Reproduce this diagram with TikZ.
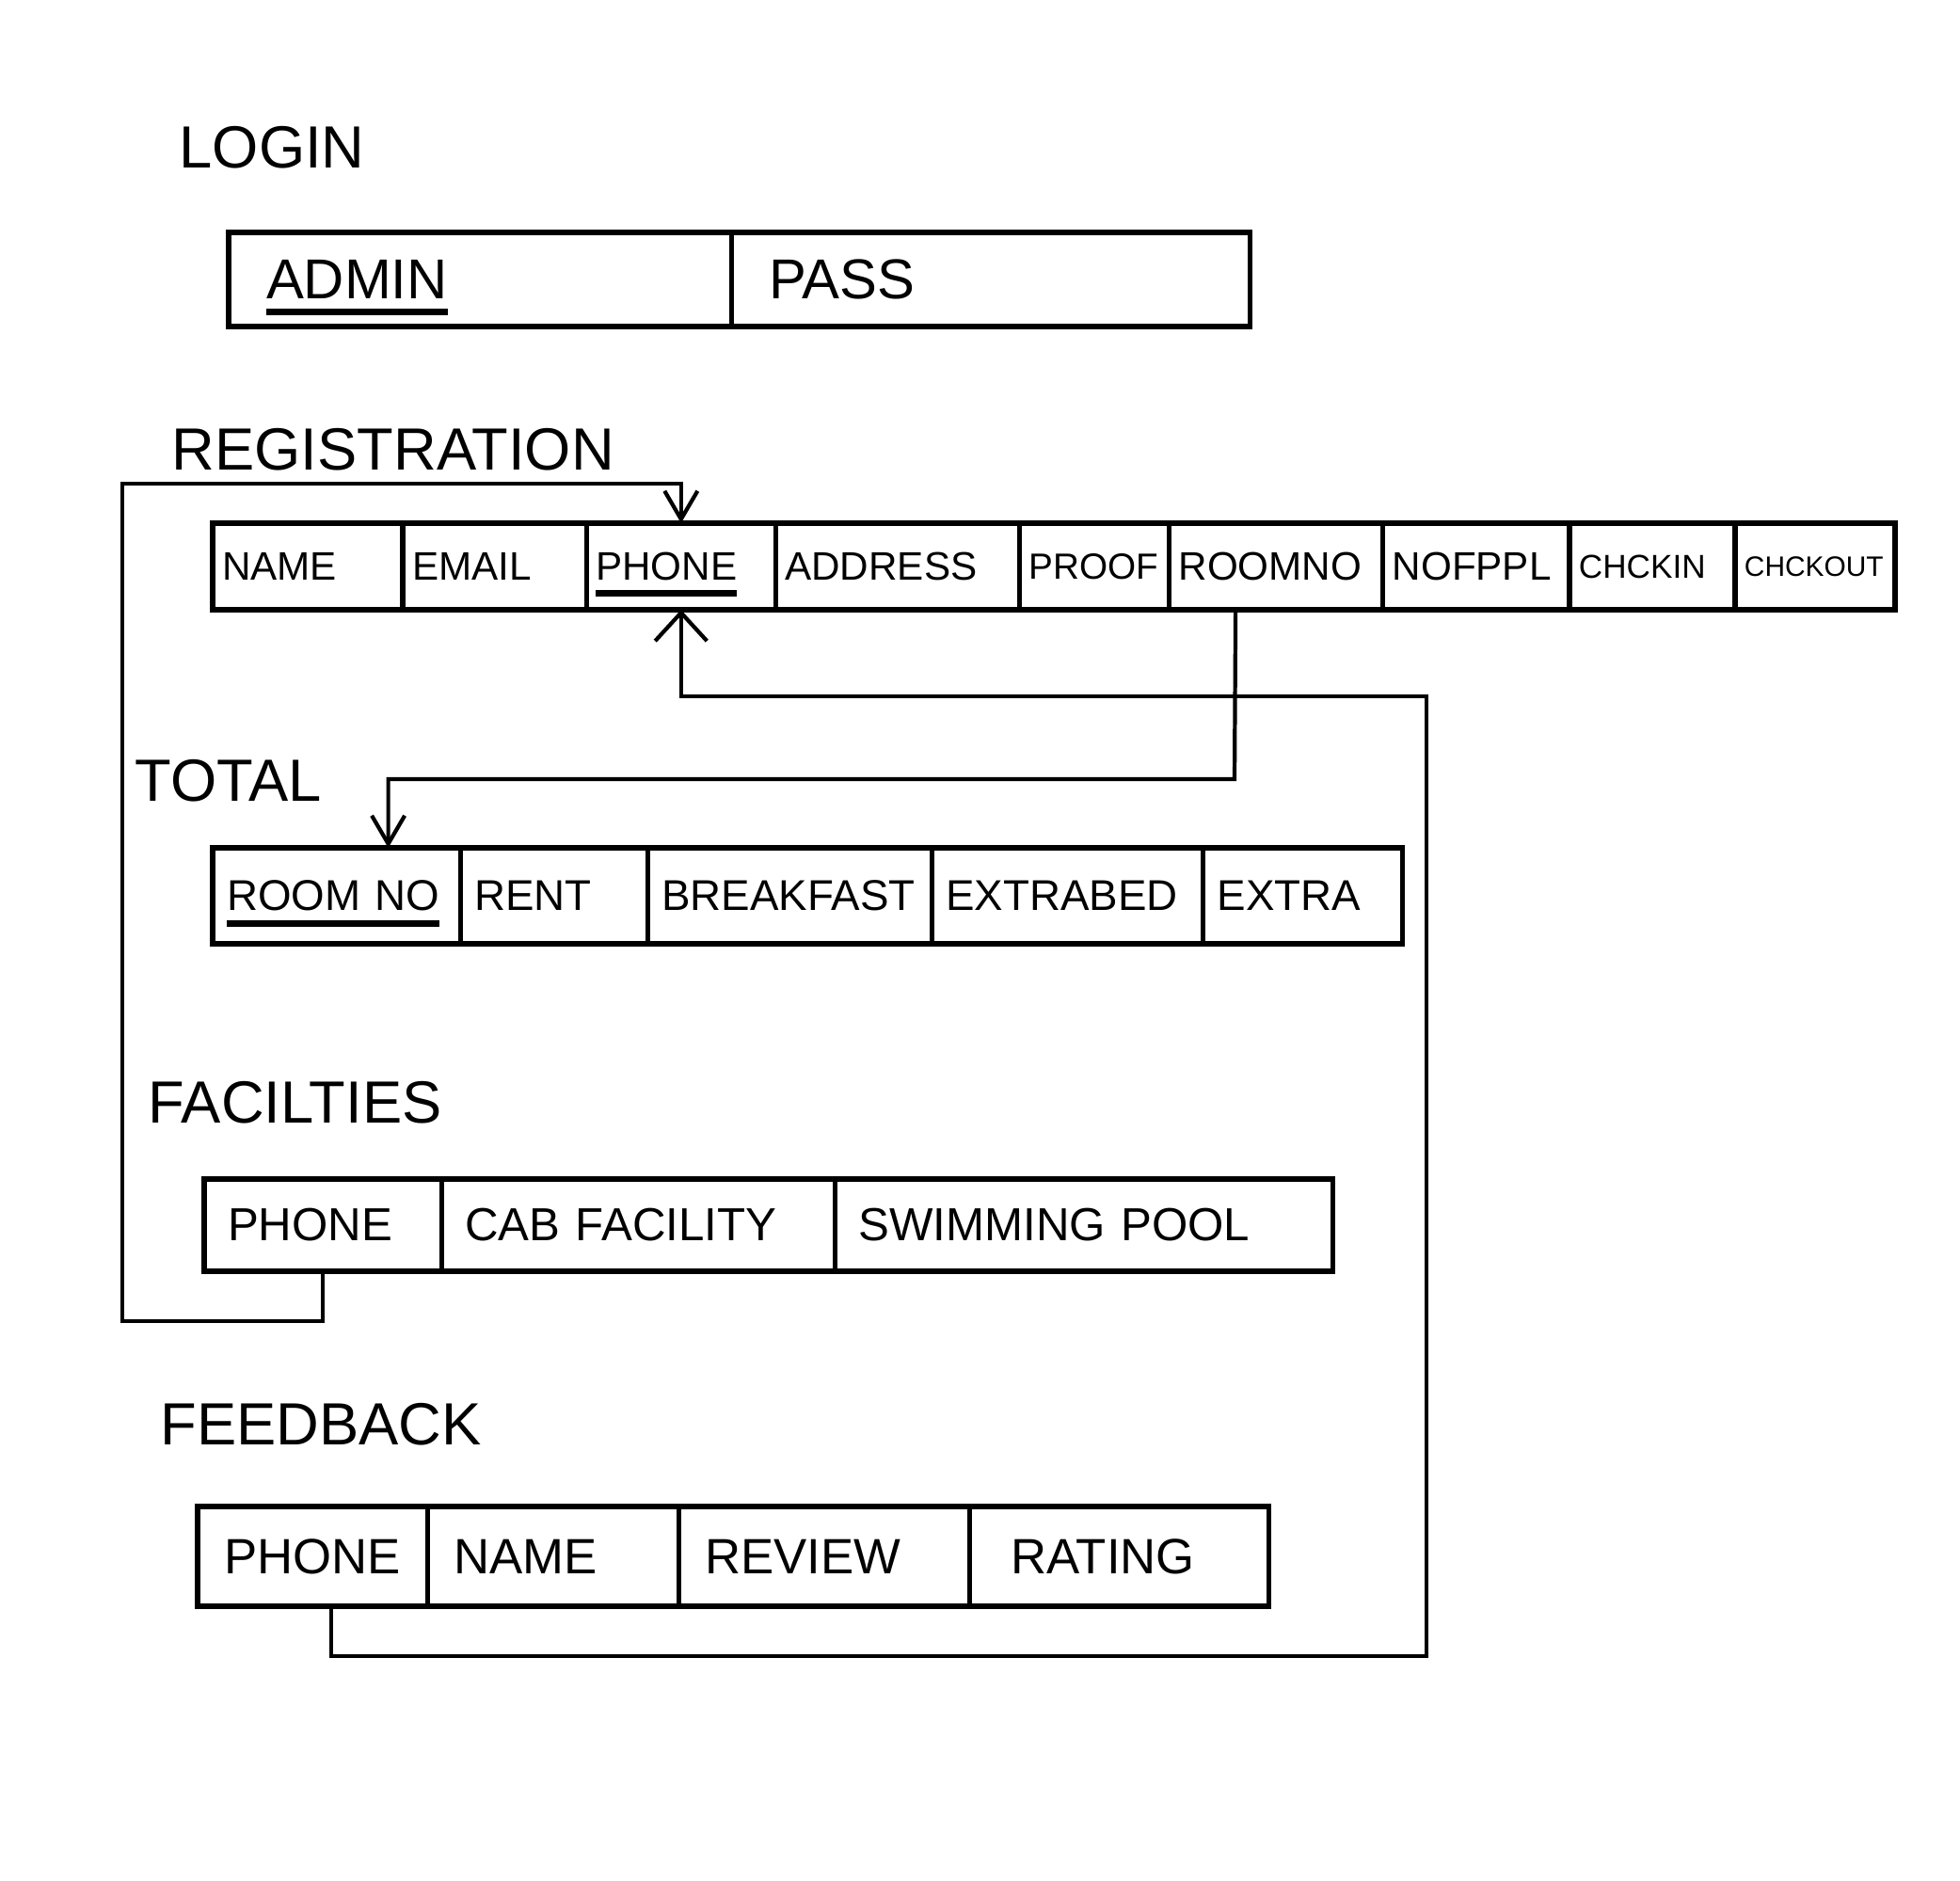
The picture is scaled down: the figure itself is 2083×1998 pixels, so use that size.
\documentclass[tikz,border=0pt]{standalone}
\usepackage{fontspec}
\setmainfont{Liberation Sans}
\usetikzlibrary{positioning, arrows.meta, calc}
\newcommand{\pkey}[1]{\setbox0\hbox{#1}\rlap{\smash{\vrule height -3pt depth 5pt width \wd0}}\box0}

\begin{document}
\begin{tikzpicture}[
  x=0.01cm, y=-0.01cm,
  node distance=0pt,
  title/.style={anchor=west, inner sep=0pt, font=\fontsize{18}{20}\selectfont},
  cell/.style={draw, line width=1.5pt, outer sep=0pt, inner ysep=0pt, align=left},
  logcell/.style={cell, inner xsep=4mm, text width=#1-8mm, minimum height=10mm,
    font=\fontsize{17}{20}\selectfont},
  regcell/.style={cell, inner xsep=1mm, text width=#1-2mm, minimum height=9.2mm,
    font=\fontsize{12}{14}\selectfont},
  totcell/.style={cell, inner xsep=1.5mm, text width=#1-3mm, minimum height=10.2mm,
    font=\fontsize{13}{15}\selectfont},
  faccell/.style={cell, inner xsep=2.5mm, text width=#1-5mm, minimum height=9.8mm,
    font=\fontsize{14}{16}\selectfont},
  fbcell/.style={cell, inner xsep=2.8mm, text width=#1-5.6mm, minimum height=10.6mm,
    font=\fontsize{15}{17}\selectfont},
  link/.style={draw, line width=1.2pt},
  barb/.style={-{Straight Barb[length=3mm, width=3.5mm]}},
  bigbarb/.style={-{Straight Barb[length=3mm, width=5.5mm]}}
]
\path[use as bounding box, fill=white] (0,0) rectangle (2083,1998);

% LOGIN
\node[title] (tlogin) at (190,157) {LOGIN};
\node[logcell=5.34cm, anchor=west] (l1) at (243,297) {\pkey{ADMIN}};
\node[logcell=5.51cm, right=of l1] (l2) {PASS};

% REGISTRATION
\node[title] (treg) at (182,478) {REGISTRATION};
\node[regcell=2.02cm, anchor=west] (r1) at (226,602) {NAME};
\node[regcell=1.95cm, right=of r1] (r2) {EMAIL};
\node[regcell=2.01cm, right=of r2] (r3) {\pkey{PHONE}};
\node[regcell=2.59cm, right=of r3] (r4) {ADDRESS};
\node[regcell=1.59cm, right=of r4, font=\fontsize{11}{13}\selectfont] (r5) {PROOF};
\node[regcell=2.27cm, right=of r5] (r6) {ROOMNO};
\node[regcell=1.98cm, right=of r6] (r7) {NOFPPL};
\node[regcell=1.76cm, right=of r7, font=\fontsize{10}{12}\selectfont] (r8) {CHCKIN};
\node[regcell=1.70cm, right=of r8, font=\fontsize{8.5}{10}\selectfont] (r9) {CHCKOUT};

% TOTAL
\node[title] (ttot) at (143,830) {TOTAL};
\node[totcell=2.63cm, anchor=west] (t1) at (226,952) {\pkey{ROOM NO}};
\node[totcell=1.99cm, right=of t1] (t2) {RENT};
\node[totcell=3.02cm, right=of t2] (t3) {BREAKFAST};
\node[totcell=2.88cm, right=of t3] (t4) {EXTRABED};
\node[totcell=2.12cm, right=of t4] (t5) {EXTRA};

% FACILTIES
\node[title] (tfac) at (157,1172) {FACILTIES};
\node[faccell=2.52cm, anchor=west] (f1) at (217,1302) {PHONE};
\node[faccell=4.18cm, right=of f1] (f2) {CAB FACILITY};
\node[faccell=5.29cm, right=of f2] (f3) {SWIMMING POOL};

% FEEDBACK
\node[title] (tfb) at (170,1514) {FEEDBACK};
\node[fbcell=2.44cm, anchor=west] (b1) at (210,1654) {PHONE};
\node[fbcell=2.67cm, right=of b1] (b2) {NAME};
\node[fbcell=3.09cm, right=of b2] (b3) {REVIEW};
\node[fbcell=3.18cm, right=of b3, inner xsep=4.4mm, text width=3.18cm-8.8mm] (b4) {RATING};

% connectors
\coordinate (ca1) at (130,1404);
\coordinate (ca2) at (130,514);
\coordinate (cb1) at (1516,1760);
\coordinate (cb2) at (1516,740);
\coordinate (cc) at (1312,828);
\draw[link, barb] (f1.south) |- (ca1) -- (ca2) -| (r3.north);
\draw[link, bigbarb] ([xshift=2mm]b1.south) |- (cb1) -- (cb2) -| (r3.south);
\draw[link, barb] ([xshift=-4.3mm]r6.south) -- (cc) -| ([xshift=5.5mm]t1.north);
\end{tikzpicture}
\end{document}
